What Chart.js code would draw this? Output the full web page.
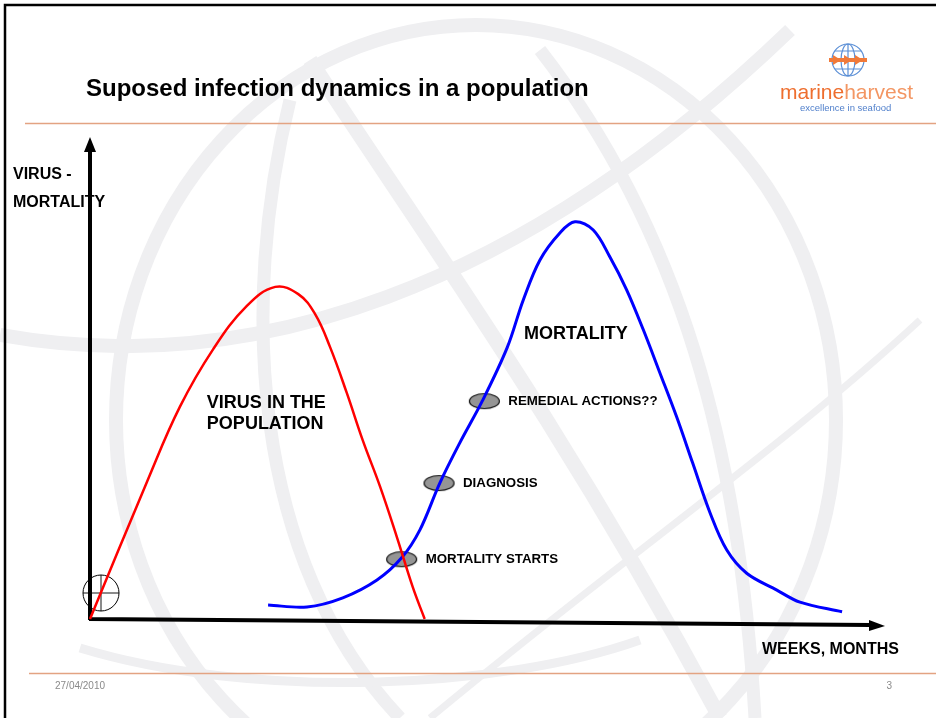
<!DOCTYPE html>
<html>
<head>
<meta charset="utf-8">
<title>Suposed infection dynamics in a population</title>
<script src="https://cdn.jsdelivr.net/npm/chart.js@4.4.1/dist/chart.umd.min.js"></script>
<style>
  html, body { margin: 0; padding: 0; background: #fff; }
  #slide { display: block; }
</style>
</head>
<body>
<canvas id="slide" width="936" height="718"></canvas>
<script>
(function () {
    'use strict';

    // curve values (x = time, y = relative level)
    const virusX = [0, 7.2, 11.3, 15.5, 19.7, 23.3, 26.2, 28.3, 30.2, 32.3, 34.3, 36.5, 38.6, 40.6, 42.1];
    const virusY = [0, 28.6, 44.0, 56.0, 64.9, 68.9, 67.4, 63.3, 56.4, 46.9, 37.1, 27.4, 17.0, 6.6, 0];

    const mortX = [22.4, 27.3, 31.8, 36.1, 39.2, 41.5, 44.0, 46.5, 49.4, 52.5, 54.5, 56.6, 59.1, 61.0,
                   63.3, 65.4, 67.5, 69.6, 71.7, 73.8, 75.8, 78.0, 80.1, 82.6, 86.4, 89.3, 94.6];
    const mortY = [2.9, 2.5, 4.4, 8.1, 12.7, 18.5, 28.2, 36.5, 45.4, 56.4, 66.2, 74.5, 80.1, 82.4,
                   80.7, 75.1, 68.3, 60.0, 51.0, 41.9, 32.4, 22.0, 14.3, 9.5, 6.0, 3.5, 1.5];

    const eventLabels = ['MORTALITY STARTS', 'DIAGNOSIS', 'REMEDIAL ACTIONS??'];
    const eventX = [39.2, 43.9, 49.6];
    const eventY = [12.4, 28.2, 45.2];

    const curveLabels = ['VIRUS IN THE', 'POPULATION', 'MORTALITY'];
    const curveLabelX = [14.7, 14.7, 54.6];
    const curveLabelY = [44.8, 40.5, 59.1];

    const titleText = 'Suposed infection dynamics in a population';
    const yAxisLabel = ['VIRUS -', 'MORTALITY'];
    const xAxisLabel = 'WEEKS, MONTHS';
    const footerDate = '27/04/2010';
    const pageNumber = '3';

    const FONT = '"Liberation Sans", Arial, Helvetica, sans-serif';

    function toPoints(xs, ys) {
        return xs.map((x, i) => ({ x: x, y: ys[i] }));
    }

    // grey ellipse used as the marker for each event
    function ellipseMarker() {
        const c = document.createElement('canvas');
        c.width = 33;
        c.height = 18;
        const g = c.getContext('2d');
        g.beginPath();
        g.ellipse(16.5, 9, 15, 7.5, 0, 0, Math.PI * 2);
        g.fillStyle = '#959595';
        g.fill();
        g.lineWidth = 1.2;
        g.strokeStyle = '#111';
        g.stroke();
        return c;
    }

    function band(ctx, pts, width) {
        ctx.beginPath();
        ctx.moveTo(pts[0], pts[1]);
        ctx.bezierCurveTo(pts[2], pts[3], pts[4], pts[5], pts[6], pts[7]);
        ctx.lineWidth = width;
        ctx.stroke();
    }

    const slidePlugin = {
        id: 'slideDecor',
        beforeDraw(chart) {
            const ctx = chart.ctx;
            ctx.save();
            ctx.fillStyle = '#fff';
            ctx.fillRect(0, 0, chart.width, chart.height);

            // faint globe watermark
            ctx.strokeStyle = '#efeff1';
            ctx.lineWidth = 14;
            ctx.beginPath();
            ctx.ellipse(476, 420, 360, 395, 0, 0, Math.PI * 2);
            ctx.stroke();
            band(ctx, [0, 335, 250, 380, 520, 290, 790, 30], 14);
            band(ctx, [290, 100, 240, 300, 250, 560, 400, 718], 13);
            band(ctx, [310, 60, 420, 230, 560, 420, 720, 718], 15);
            band(ctx, [540, 50, 680, 230, 740, 450, 755, 718], 13);
            band(ctx, [920, 320, 780, 450, 620, 560, 430, 718], 7);
            band(ctx, [80, 648, 250, 700, 500, 690, 640, 640], 9);

            // slide frame
            ctx.strokeStyle = '#000';
            ctx.lineWidth = 2.5;
            ctx.beginPath();
            ctx.moveTo(5, 718);
            ctx.lineTo(5, 5);
            ctx.lineTo(936, 5);
            ctx.stroke();

            // title and rules
            ctx.fillStyle = '#000';
            ctx.font = 'bold 24px ' + FONT;
            ctx.textAlign = 'left';
            ctx.textBaseline = 'middle';
            ctx.fillText(titleText, 86, 89);

            ctx.strokeStyle = '#e3a382';
            ctx.lineWidth = 1.5;
            ctx.beginPath();
            ctx.moveTo(25, 123.5);
            ctx.lineTo(936, 123.5);
            ctx.moveTo(29, 673.5);
            ctx.lineTo(936, 673.5);
            ctx.stroke();

            // footer
            ctx.fillStyle = '#8a8a8a';
            ctx.font = '10px ' + FONT;
            ctx.fillText(footerDate, 55, 686);
            ctx.textAlign = 'right';
            ctx.fillText(pageNumber, 892, 686);

            // logo
            ctx.strokeStyle = '#5b8fd6';
            ctx.lineWidth = 1.2;
            ctx.beginPath();
            ctx.arc(848, 60, 16, 0, Math.PI * 2);
            ctx.stroke();
            ctx.beginPath();
            ctx.ellipse(848, 60, 7, 16, 0, 0, Math.PI * 2);
            ctx.moveTo(848, 44);
            ctx.lineTo(848, 76);
            ctx.moveTo(835, 51);
            ctx.lineTo(861, 51);
            ctx.moveTo(835, 69);
            ctx.lineTo(861, 69);
            ctx.stroke();
            ctx.fillStyle = '#f07a3a';
            ctx.fillRect(829, 58, 38, 4);
            [837, 848, 859].forEach(function (ax) {
                ctx.beginPath();
                ctx.moveTo(ax - 4, 55);
                ctx.lineTo(ax + 4, 60);
                ctx.lineTo(ax - 4, 65);
                ctx.closePath();
                ctx.fill();
            });
            ctx.textAlign = 'left';
            ctx.font = '21px ' + FONT;
            ctx.fillStyle = '#ee6e2e';
            ctx.fillText('marine', 780, 93);
            const mw = ctx.measureText('marine').width;
            ctx.fillStyle = '#f39663';
            ctx.fillText('harvest', 780 + mw, 93);
            ctx.fillStyle = '#4f7fcb';
            ctx.font = '9.5px ' + FONT;
            ctx.fillText('excellence in seafood', 800, 108);
            ctx.restore();
        },
        beforeDatasetsDraw(chart) {
            const ctx = chart.ctx;
            const xs = chart.scales.x;
            const ys = chart.scales.y;
            const x0 = xs.getPixelForValue(0);
            const y0 = ys.getPixelForValue(0);
            const yTop = ys.getPixelForValue(100);
            const xEnd = xs.getPixelForValue(100);
            ctx.save();

            // origin crosshair
            ctx.strokeStyle = '#666';
            ctx.lineWidth = 1.5;
            ctx.beginPath();
            ctx.moveTo(x0 - 7, y0 - 26);
            ctx.lineTo(x0 + 29, y0 - 26);
            ctx.moveTo(x0 + 11, y0 - 44);
            ctx.lineTo(x0 + 11, y0 - 8);
            ctx.stroke();
            ctx.strokeStyle = '#000';
            ctx.lineWidth = 1;
            ctx.beginPath();
            ctx.arc(x0 + 11, y0 - 26, 18, 0, Math.PI * 2);
            ctx.stroke();

            // axes with arrow heads
            ctx.strokeStyle = '#000';
            ctx.fillStyle = '#000';
            ctx.lineWidth = 4;
            ctx.beginPath();
            ctx.moveTo(x0, y0 + 1);
            ctx.lineTo(x0, yTop + 12);
            ctx.moveTo(x0 - 1, y0);
            ctx.lineTo(xEnd - 14, y0 + 6);
            ctx.stroke();
            ctx.beginPath();
            ctx.moveTo(x0, yTop);
            ctx.lineTo(x0 - 6, yTop + 15);
            ctx.lineTo(x0 + 6, yTop + 15);
            ctx.closePath();
            ctx.fill();
            ctx.beginPath();
            ctx.moveTo(xEnd, y0 + 7);
            ctx.lineTo(xEnd - 16, y0 + 1);
            ctx.lineTo(xEnd - 16, y0 + 12);
            ctx.closePath();
            ctx.fill();

            // axis titles
            ctx.font = 'bold 16px ' + FONT;
            ctx.textAlign = 'left';
            ctx.textBaseline = 'middle';
            ctx.fillText(yAxisLabel[0], 13, 175);
            ctx.fillText(yAxisLabel[1], 13, 203);
            ctx.fillText(xAxisLabel, 762, 650);
            ctx.restore();
        },
        afterDatasetsDraw(chart) {
            const ctx = chart.ctx;
            const xs = chart.scales.x;
            const ys = chart.scales.y;
            ctx.save();
            ctx.fillStyle = '#000';
            ctx.textAlign = 'left';
            ctx.textBaseline = 'middle';

            ctx.font = 'bold 13.3px ' + FONT;
            const meta = chart.getDatasetMeta(2);
            meta.data.forEach(function (pt, i) {
                ctx.fillText(eventLabels[i], pt.x + 24, pt.y);
            });

            ctx.font = 'bold 18px ' + FONT;
            curveLabels.forEach(function (txt, i) {
                ctx.fillText(txt, xs.getPixelForValue(curveLabelX[i]), ys.getPixelForValue(curveLabelY[i]));
            });
            ctx.restore();
        }
    };

    const canvas = document.getElementById('slide');
    new Chart(canvas.getContext('2d'), {
        type: 'scatter',
        data: {
            datasets: [{
                label: 'Virus in the population',
                data: toPoints(virusX, virusY),
                showLine: true,
                borderColor: '#ff0000',
                borderWidth: 2.5,
                pointRadius: 0,
                tension: 0.4,
                clip: false
            }, {
                label: 'Mortality',
                data: toPoints(mortX, mortY),
                showLine: true,
                borderColor: '#0000ff',
                borderWidth: 3,
                pointRadius: 0,
                tension: 0.35,
                clip: false
            }, {
                label: 'Events',
                data: toPoints(eventX, eventY),
                showLine: false,
                pointStyle: ellipseMarker(),
                pointRadius: 8,
                clip: false
            }]
        },
        options: {
            responsive: false,
            animation: false,
            devicePixelRatio: 1,
            layout: { padding: { left: 90, right: 51, top: 137, bottom: 99 } },
            plugins: {
                legend: { display: false },
                tooltip: { enabled: false },
                title: { display: false }
            },
            scales: {
                x: { type: 'linear', min: 0, max: 100, display: false },
                y: { type: 'linear', min: 0, max: 100, display: false }
            }
        },
        plugins: [slidePlugin]
    });
})();
</script>
</body>
</html>
